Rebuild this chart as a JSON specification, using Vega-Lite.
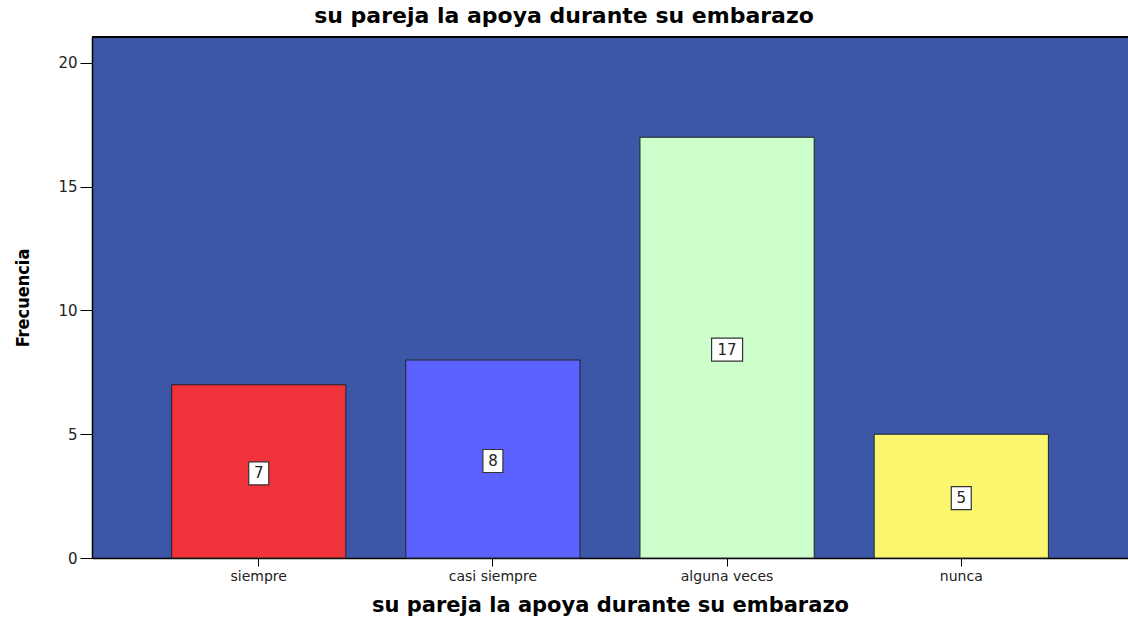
{
  "$schema": "https://vega.github.io/schema/vega-lite/v6.json",
  "autosize": {"type": "none"},
  "padding": {"left": 92, "top": 37, "right": 0, "bottom": 59},
  "width": 1036,
  "height": 521,
  "background": "white",
  "title": {
    "text": "su pareja la apoya durante su embarazo",
    "font": "DejaVu Sans",
    "fontSize": 22,
    "fontWeight": "bold",
    "color": "black",
    "anchor": "middle",
    "dx": -46,
    "offset": 8
  },
  "config": {
    "view": {"fill": "#3D57A8", "stroke": null},
    "axis": {"labelFont": "DejaVu Sans", "labelColor": "#222222", "domainColor": "black", "tickColor": "black", "grid": false}
  },
  "data": {
    "values": [
      {"categoria": "siempre", "n": 7},
      {"categoria": "casi siempre", "n": 8},
      {"categoria": "alguna veces", "n": 17},
      {"categoria": "nunca", "n": 5}
    ]
  },
  "transform": [{"calculate": "datum.n / 2", "as": "mitad"}],
  "layer": [
    {
      "mark": {"type": "bar", "stroke": "#222222", "strokeWidth": 1},
      "encoding": {
        "x": {
          "field": "categoria",
          "type": "nominal",
          "sort": null,
          "scale": {"paddingInner": 0.256, "paddingOuter": 0.34},
          "axis": {
            "title": "su pareja la apoya durante su embarazo",
            "titleFont": "DejaVu Sans",
            "titleFontSize": 21,
            "titleFontWeight": "bold",
            "titleColor": "black",
            "titlePadding": 11,
            "labelAngle": 0,
            "labelFontSize": 14,
            "labelPadding": 3,
            "tickSize": 8,
            "domainWidth": 1.5
          }
        },
        "y": {
          "field": "n",
          "type": "quantitative",
          "scale": {"domain": [0, 21.05], "nice": false},
          "axis": {
            "title": "Frecuencia",
            "titleFont": "'DejaVu Sans Condensed', 'Liberation Sans Narrow', Roboto",
            "titleFontSize": 18,
            "titleFontWeight": "bold",
            "titleColor": "black",
            "titlePadding": 25,
            "values": [0, 5, 10, 15, 20],
            "labelFontSize": 15,
            "labelPadding": 3,
            "tickSize": 12,
            "domainWidth": 1.5
          }
        },
        "color": {
          "field": "categoria",
          "type": "nominal",
          "sort": null,
          "scale": {
            "domain": ["siempre", "casi siempre", "alguna veces", "nunca"],
            "range": ["#F0323A", "#5C62FF", "#CCFFCC", "#FAF76F"]
          },
          "legend": null
        }
      }
    },
    {
      "mark": {"type": "rule", "color": "black", "strokeWidth": 1.5},
      "encoding": {"y": {"datum": 21.05}}
    },
    {
      "mark": {"type": "point", "filled": true, "fill": "white", "stroke": "#333333", "strokeWidth": 1.2, "opacity": 1, "size": 400, "yOffset": 2},
      "encoding": {
        "x": {"field": "categoria", "type": "nominal", "sort": null},
        "y": {"field": "mitad", "type": "quantitative"},
        "shape": {
          "condition": {"test": "datum.n >= 10", "value": "M-1.55,-1.15H1.55V1.15H-1.55Z"},
          "value": "M-1,-1.15H1V1.15H-1Z"
        }
      }
    },
    {
      "mark": {"type": "text", "font": "DejaVu Sans", "fontSize": 15, "color": "#222222", "baseline": "middle", "yOffset": 2},
      "encoding": {
        "x": {"field": "categoria", "type": "nominal", "sort": null},
        "y": {"field": "mitad", "type": "quantitative"},
        "text": {"field": "n", "type": "quantitative"}
      }
    }
  ]
}
